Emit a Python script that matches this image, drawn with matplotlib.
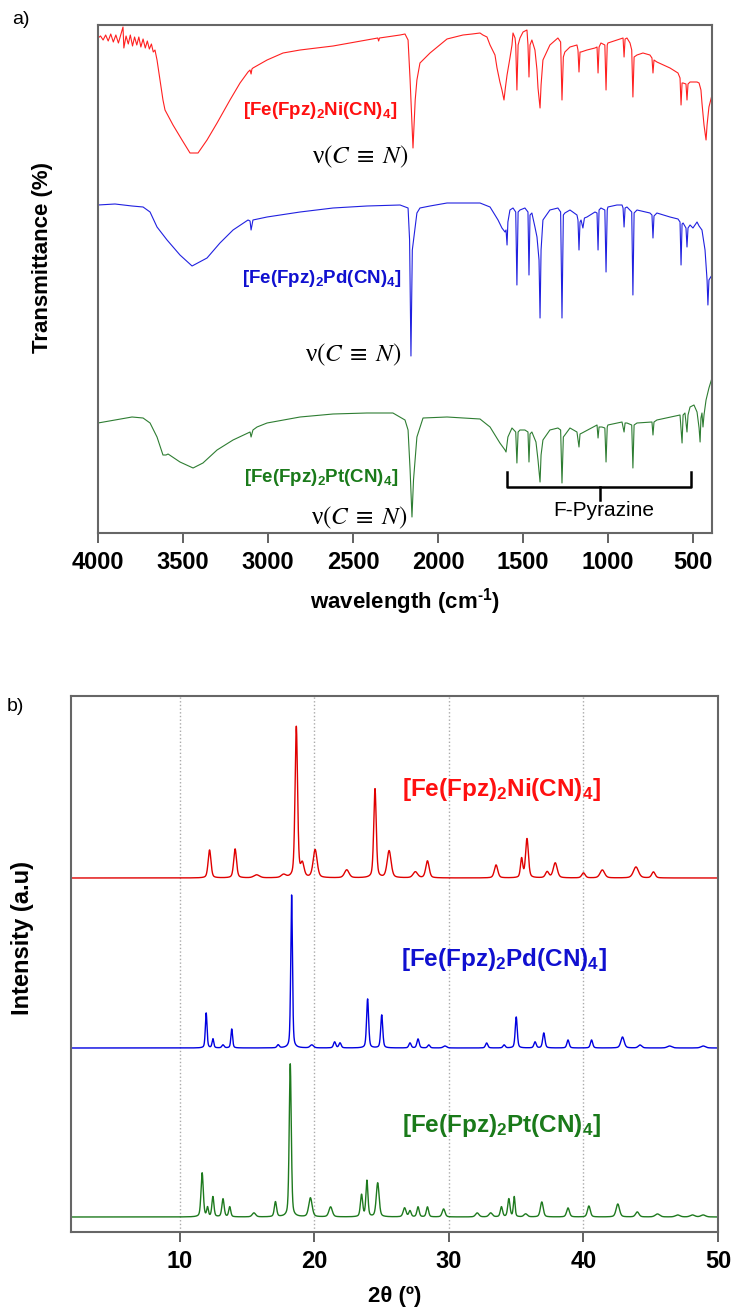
import matplotlib
matplotlib.use('Agg')
import matplotlib.pyplot as plt
import numpy as np

plt.rcParams['font.family'] = ['Liberation Sans', 'DejaVu Sans']
plt.rcParams['mathtext.fontset'] = 'custom'
plt.rcParams['mathtext.rm'] = 'Liberation Sans:bold'
plt.rcParams['mathtext.it'] = 'Liberation Sans:italic:bold'
plt.rcParams['mathtext.bf'] = 'Liberation Sans:bold'

# ---- FTIR: (wavenumber cm-1, transmittance with stacking offset) ----
ir_ni = [
    (4000, 495), (3985, 497), (3970, 493), (3955, 498), (3940, 492), (3925, 499),
    (3910, 491), (3895, 498), (3880, 490), (3865, 499), (3853, 506), (3848, 485),
    (3835, 497), (3822, 489), (3810, 498), (3797, 487), (3785, 496), (3772, 488),
    (3760, 496), (3748, 486), (3735, 494), (3722, 485), (3710, 492), (3698, 484),
    (3686, 489), (3675, 481), (3665, 483), (3653, 473), (3618, 433), (3606, 423),
    (3559, 408), (3506, 393), (3459, 380), (3412, 380), (3359, 393), (3300, 410),
    (3224, 433), (3165, 450), (3118, 461), (3106, 463), (3100, 459), (3095, 464),
    (3089, 465), (3006, 473), (2912, 480), (2812, 483), (2618, 487), (2419, 493),
    (2355, 495), (2350, 492), (2345, 495), (2224, 498), (2195, 499), (2177, 493),
    (2165, 453), (2148, 385), (2135, 433), (2125, 453), (2107, 470), (2048, 480),
    (1948, 494), (1900, 496), (1854, 498), (1800, 499), (1754, 500), (1737, 498),
    (1713, 496), (1695, 488), (1666, 478), (1654, 465), (1637, 451), (1625, 443),
    (1613, 433), (1605, 445), (1595, 458), (1578, 475), (1566, 488), (1560, 500),
    (1548, 495), (1544, 488), (1537, 443), (1530, 488), (1519, 495), (1501, 501),
    (1490, 502), (1478, 503), (1472, 488), (1466, 456), (1460, 488), (1449, 493),
    (1431, 483), (1419, 463), (1413, 445), (1401, 425), (1395, 448), (1384, 473),
    (1343, 488), (1296, 495), (1280, 491), (1272, 433), (1264, 476), (1255, 481),
    (1225, 486), (1184, 488), (1178, 483), (1172, 461), (1166, 481), (1160, 481),
    (1125, 483), (1078, 485), (1066, 486), (1060, 460), (1054, 486), (1043, 490),
    (1020, 488), (1013, 443), (1006, 488), (1002, 490), (949, 493), (913, 495),
    (907, 476), (901, 494), (890, 495), (872, 490), (862, 483), (855, 436),
    (848, 476), (831, 478), (796, 480), (755, 478), (743, 475), (737, 460),
    (731, 473), (714, 471), (637, 465), (590, 460), (578, 455), (572, 428),
    (566, 450), (560, 450), (543, 449), (537, 433), (531, 449), (519, 451),
    (478, 451), (466, 450), (455, 443), (449, 430), (437, 408), (425, 393),
    (419, 408), (408, 426), (390, 438),
]

ir_pd = [
    (4000, 328), (3900, 329), (3800, 327), (3735, 326), (3694, 321), (3653, 306),
    (3594, 293), (3518, 278), (3447, 267), (3359, 275), (3283, 290), (3206, 303),
    (3118, 313), (3106, 312), (3100, 303), (3089, 313), (3006, 316), (2812, 321),
    (2618, 325), (2419, 327), (2224, 328), (2177, 325), (2168, 293), (2160, 177),
    (2152, 283), (2125, 320), (2107, 325), (2048, 327), (1948, 330), (1854, 330),
    (1754, 330), (1695, 326), (1666, 318), (1648, 313), (1625, 305), (1607, 301),
    (1601, 303), (1595, 288), (1590, 311), (1578, 323), (1560, 325), (1544, 321),
    (1537, 248), (1530, 321), (1519, 323), (1490, 325), (1472, 321), (1466, 258),
    (1460, 318), (1449, 320), (1431, 306), (1419, 296), (1407, 273), (1401, 215),
    (1395, 283), (1384, 313), (1343, 323), (1296, 325), (1280, 321), (1272, 215),
    (1264, 318), (1255, 320), (1225, 323), (1184, 318), (1178, 313), (1172, 283),
    (1166, 311), (1160, 313), (1149, 305), (1140, 315), (1125, 316), (1078, 321),
    (1066, 320), (1060, 283), (1054, 323), (1043, 325), (1020, 323), (1013, 261),
    (1006, 323), (1002, 326), (949, 328), (919, 328), (913, 325), (907, 306),
    (901, 325), (890, 326), (862, 321), (855, 238), (848, 320), (831, 323),
    (755, 320), (743, 318), (737, 295), (731, 317), (714, 320), (637, 316),
    (590, 314), (578, 311), (572, 268), (566, 309), (560, 310), (543, 305),
    (537, 286), (531, 305), (519, 308), (502, 305), (478, 311), (466, 307),
    (449, 303), (431, 283), (419, 253), (414, 228), (408, 253), (390, 258),
]

ir_pt = [
    (4000, 110), (3900, 113), (3800, 116), (3735, 115), (3694, 110), (3653, 96),
    (3618, 78), (3600, 78), (3588, 79), (3518, 71), (3441, 65), (3383, 70),
    (3300, 83), (3206, 93), (3106, 101), (3100, 96), (3089, 103), (3065, 106),
    (3006, 110), (2812, 116), (2618, 119), (2419, 120), (2266, 120), (2195, 113),
    (2177, 103), (2165, 63), (2154, 16), (2145, 53), (2125, 96), (2089, 115),
    (1948, 116), (1754, 114), (1695, 106), (1637, 90), (1607, 83), (1601, 81),
    (1590, 96), (1566, 105), (1544, 101), (1537, 70), (1530, 101), (1519, 103),
    (1490, 103), (1472, 101), (1466, 71), (1460, 99), (1449, 101), (1425, 91),
    (1413, 73), (1401, 51), (1395, 78), (1384, 93), (1343, 103), (1296, 105),
    (1280, 103), (1272, 50), (1264, 96), (1255, 98), (1225, 105), (1184, 101),
    (1172, 86), (1166, 99), (1154, 100), (1066, 108), (1060, 95), (1054, 106),
    (1037, 106), (1020, 105), (1013, 71), (1006, 106), (1002, 108), (919, 111),
    (907, 101), (901, 110), (890, 110), (862, 108), (855, 65), (848, 108),
    (831, 110), (743, 111), (737, 98), (731, 111), (714, 113), (578, 118),
    (566, 90), (560, 118), (549, 120), (537, 101), (531, 118), (519, 126),
    (496, 128), (478, 121), (466, 105), (460, 91), (455, 115), (449, 120),
    (443, 106), (437, 118), (425, 133), (408, 145), (390, 155),
]

# ---- PXRD: peak positions (2theta), heights, widths and stacking offsets ----
xrd_ni_pos = [12.2, 14.1, 15.7, 17.7, 18.65, 19.1, 20.05, 22.4, 24.5, 25.55, 27.5,
              28.4, 33.5, 35.4, 35.8, 37.3, 37.9, 40.0, 41.4, 43.9, 45.2]
xrd_ni_h = [28, 29, 3, 3, 151, 13, 28, 8, 89, 27, 6,
            17, 13, 19, 39, 6, 15, 5, 8, 11, 6]
xrd_ni_w = [0.25, 0.25, 0.5, 0.4, 0.22, 0.3, 0.35, 0.4, 0.22, 0.35, 0.4,
            0.3, 0.3, 0.2, 0.25, 0.3, 0.35, 0.3, 0.4, 0.45, 0.3]
xrd_ni_base = 354
xrd_ni_start = -22

xrd_pd_pos = [11.95, 12.45, 13.2, 13.85, 17.3, 18.3, 19.8, 21.5, 21.9, 23.95, 25.0,
              27.1, 27.7, 28.5, 29.7, 32.8, 34.1, 35.0, 36.4, 37.05, 38.85, 40.6,
              42.9, 44.2, 46.4, 48.9]
xrd_pd_h = [35, 9, 3, 19, 3, 153, 3, 6, 5, 49, 33,
            5, 9, 3, 2, 5, 3, 31, 6, 15, 8, 8,
            11, 3, 2, 2]
xrd_pd_w = [0.15, 0.15, 0.2, 0.15, 0.2, 0.15, 0.3, 0.2, 0.2, 0.18, 0.18,
            0.2, 0.2, 0.2, 0.3, 0.2, 0.2, 0.18, 0.2, 0.2, 0.2, 0.2,
            0.3, 0.3, 0.4, 0.4]
xrd_pd_base = 184
xrd_pd_start = 11

xrd_pt_pos = [11.65, 12.05, 12.45, 13.2, 13.7, 15.5, 17.1, 18.2, 19.7, 21.2, 23.5,
              23.9, 24.7, 26.7, 27.1, 27.7, 28.4, 29.6, 32.1, 33.1, 33.9, 34.45,
              34.85, 35.7, 36.9, 38.85, 40.4, 42.55, 44.0, 45.5, 47.0, 48.1, 48.9]
xrd_pt_h = [44, 9, 20, 18, 10, 4, 15, 153, 19, 10, 22,
            36, 34, 9, 6, 10, 10, 8, 4, 4, 10, 18,
            20, 3, 15, 9, 11, 13, 5, 3, 2, 2, 2]
xrd_pt_w = [0.2, 0.15, 0.18, 0.2, 0.18, 0.3, 0.2, 0.18, 0.3, 0.3, 0.2,
            0.18, 0.25, 0.25, 0.2, 0.2, 0.2, 0.25, 0.3, 0.3, 0.2, 0.2,
            0.15, 0.3, 0.25, 0.25, 0.25, 0.3, 0.3, 0.4, 0.4, 0.4, 0.4]
xrd_pt_base = 15
xrd_pt_start = -13

labels = ['[Fe(Fpz)$_2$Ni(CN)$_4$]', '[Fe(Fpz)$_2$Pd(CN)$_4$]', '[Fe(Fpz)$_2$Pt(CN)$_4$]']
ir_colors = ['#ff2020', '#2020e0', '#2e7d32']
xrd_colors = ['#e00000', '#0000e0', '#1e7a1e']
label_colors = ['#ff1010', '#1010d0', '#1a7a1a']


def pattern(tt, pos, h, w, base, start):
    y = np.full_like(tt, float(base))
    for p, a, fw in zip(pos, h, w):
        d = (tt - p) / fw
        y += a * (0.6 * np.exp(-4 * np.log(2) * d ** 2) + 0.4 / (1 + 4 * d ** 2))
    y[0] = base + start
    return y


def style_axes(ax):
    for s in ax.spines.values():
        s.set_color('#666666')
        s.set_linewidth(1.5)
    ax.set_yticks([])
    ax.tick_params(axis='x', direction='out', length=7, width=1.3, color='#555555',
                   labelsize=17, pad=6)
    for t in ax.get_xticklabels():
        t.set_fontweight('bold')


fig = plt.figure(figsize=(7.36, 13.12), dpi=100)

# ---------------- a) FTIR ----------------
ax1 = fig.add_axes([98 / 736, 1 - 533 / 1312, 614 / 736, 508 / 1312])
for data, c in zip([ir_ni, ir_pd, ir_pt], ir_colors):
    wn, t = np.array(data).T
    ax1.plot(wn, t, color=c, lw=0.8)
ax1.set_xlim(4000, 390)
ax1.set_ylim(0, 508)
ax1.set_xticks([4000, 3500, 3000, 2500, 2000, 1500, 1000, 500])
style_axes(ax1)
ax1.set_xlabel(r'wavelength (cm$^{\text{-1}}$)', fontsize=16, fontweight='bold', labelpad=9)
ax1.set_ylabel('Transmittance (%)', fontsize=16, fontweight='bold')
ax1.yaxis.set_label_coords(-0.073, 0.543)

ir_label_pos = [(2242, 418), (2213, 250), (2236, 51)]
for (x, y), lab, c in zip(ir_label_pos, labels, label_colors):
    ax1.text(x, y, lab, color=c, fontsize=13.5, fontweight='bold', ha='right', va='baseline')

cn_pos = [(2177, 370), (2213, 172), (2183, 9)]
for x, y in cn_pos:
    ax1.text(x, y, r'ν$(C\;\equiv\;N)$', fontsize=18, ha='right', va='baseline',
             family='Liberation Serif', math_fontfamily='stix', color='black')

# bracket over the pyrazine ring bands
br_lo, br_hi, br_mid = 1595, 516, 1049
ax1.plot([br_lo, br_lo, br_hi, br_hi], [61, 46, 46, 61], color='black', lw=1.8,
         solid_joinstyle='round')
ax1.plot([br_mid, br_mid], [46, 33], color='black', lw=1.8)
ax1.text(1025, 22, 'F-Pyrazine', fontsize=15, ha='center', va='center')

fig.text(12 / 736, 1 - 20 / 1312, 'a)', fontsize=14, ha='left', va='center')

# ---------------- b) PXRD ----------------
ax2 = fig.add_axes([71 / 736, 1 - 1232 / 1312, 647 / 736, 536 / 1312])
tt = np.arange(1.9, 50.0001, 0.01)
series = [
    (xrd_ni_pos, xrd_ni_h, xrd_ni_w, xrd_ni_base, xrd_ni_start),
    (xrd_pd_pos, xrd_pd_h, xrd_pd_w, xrd_pd_base, xrd_pd_start),
    (xrd_pt_pos, xrd_pt_h, xrd_pt_w, xrd_pt_base, xrd_pt_start),
]
for (pos, h, w, base, start), c in zip(series, xrd_colors):
    ax2.plot(tt, pattern(tt, pos, h, w, base, start), color=c, lw=1.0)
ax2.set_xlim(1.9, 50)
ax2.set_ylim(0, 536)
ax2.set_xticks([10, 20, 30, 40, 50])
ax2.grid(axis='x', color='#aaaaaa', linestyle=':', linewidth=1.0)
ax2.set_axisbelow(True)
style_axes(ax2)
ax2.set_xlabel('2θ (º)', fontsize=16, fontweight='bold', labelpad=9)
ax2.set_ylabel('Intensity (a.u)', fontsize=17, fontweight='bold')
ax2.yaxis.set_label_coords(-0.057, 0.549)

xrd_label_pos = [(33.9, 436), (34.1, 266), (33.9, 100)]
for (x, y), lab, c in zip(xrd_label_pos, labels, label_colors):
    ax2.text(x, y, lab, color=c, fontsize=17.5, fontweight='bold', ha='center', va='baseline')

fig.text(7 / 736, 1 - 707 / 1312, 'b)', fontsize=14, ha='left', va='center')

fig.savefig('out.png', dpi=100)
